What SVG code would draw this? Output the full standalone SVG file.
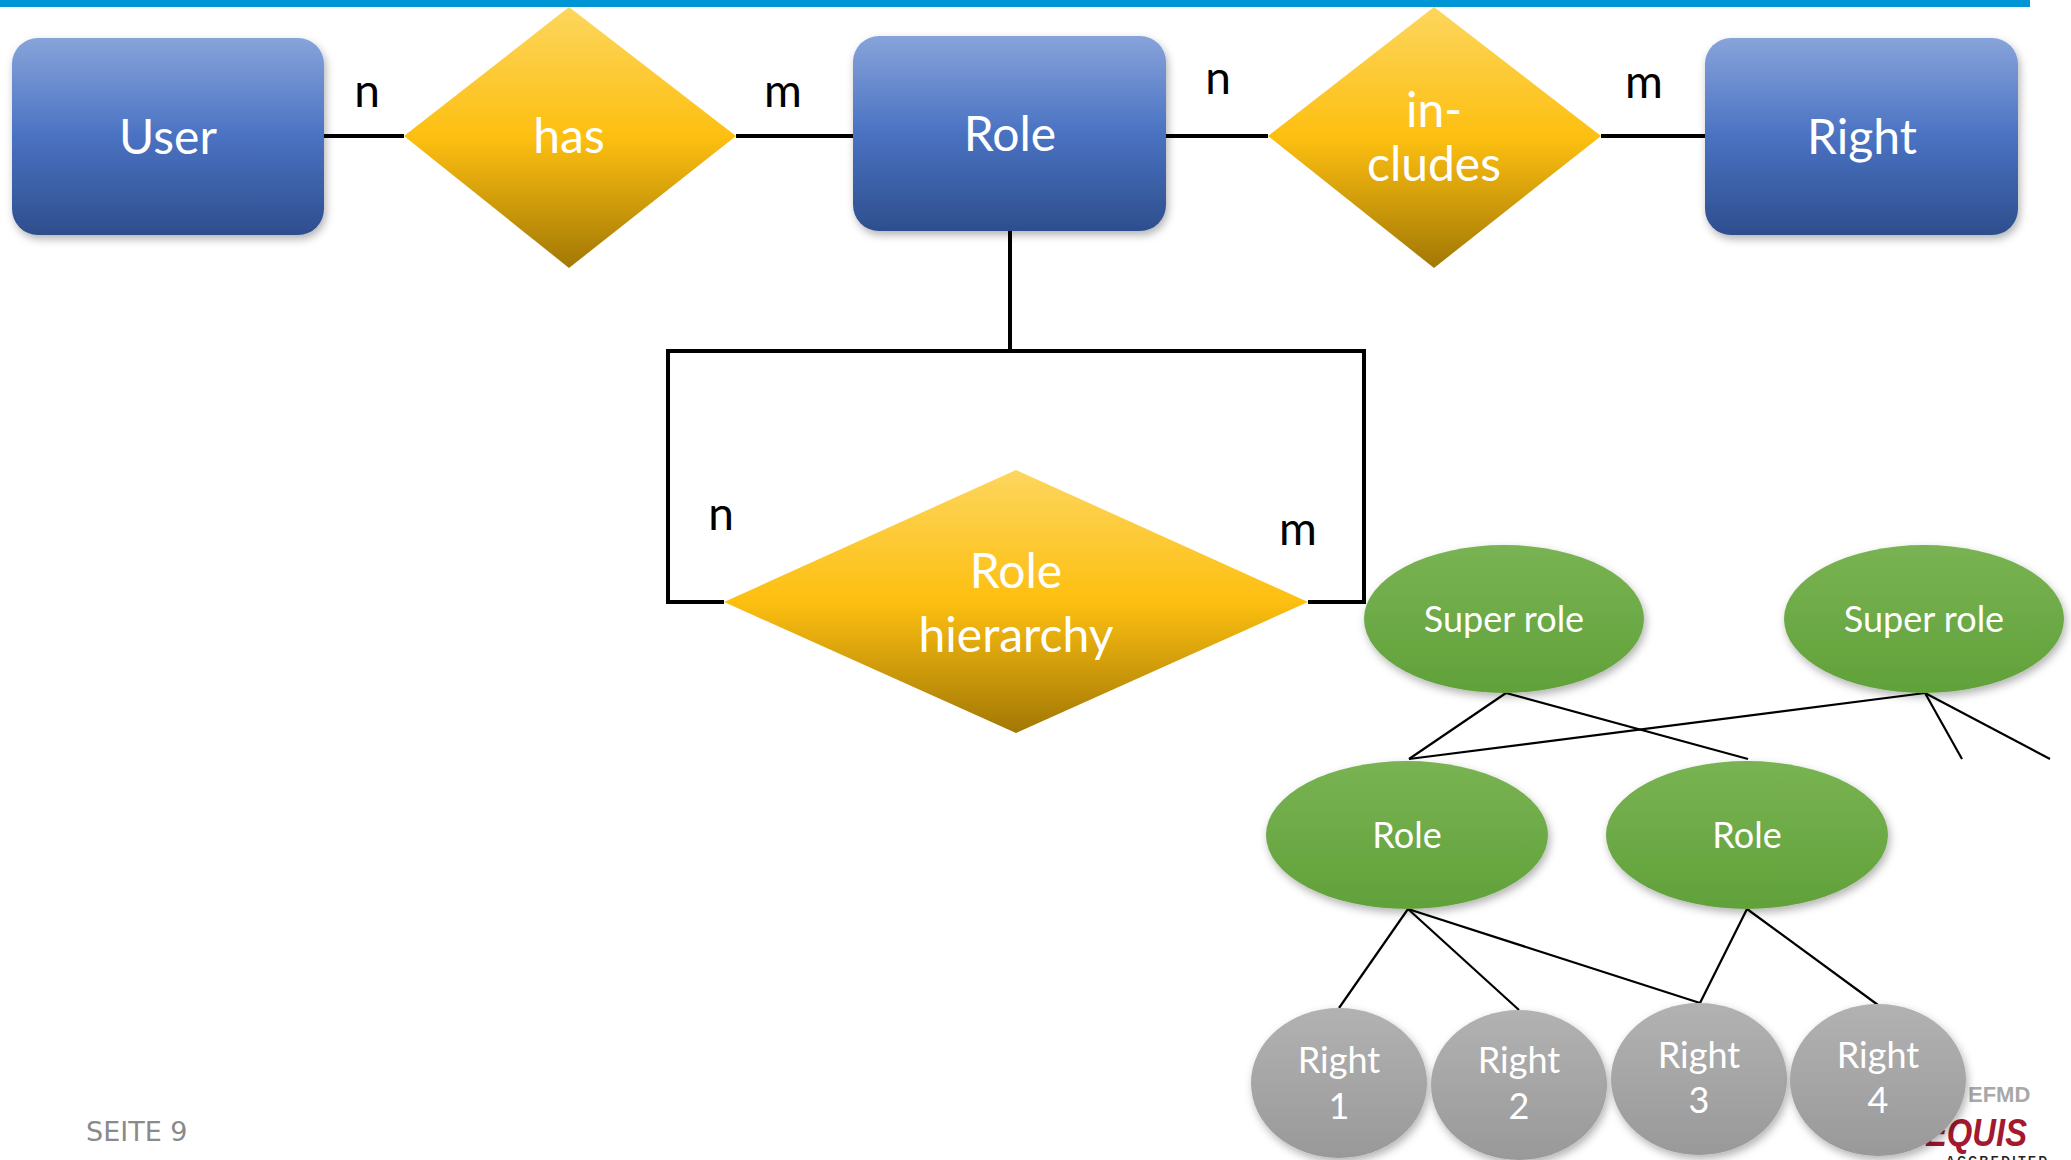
<svg xmlns="http://www.w3.org/2000/svg" width="2071" height="1160" viewBox="0 0 2071 1160">
<defs>
<linearGradient id="gBlue" x1="0" y1="0" x2="0" y2="1">
<stop offset="0" stop-color="#87a3da"/><stop offset="0.5" stop-color="#4a72c2"/><stop offset="1" stop-color="#2e4e8d"/>
</linearGradient>
<linearGradient id="gGold" x1="0" y1="0" x2="0" y2="1">
<stop offset="0" stop-color="#fdd65e"/><stop offset="0.5" stop-color="#fdbf10"/><stop offset="1" stop-color="#a27805"/>
</linearGradient>
<linearGradient id="gGreen" x1="0" y1="0" x2="0" y2="1">
<stop offset="0" stop-color="#79b353"/><stop offset="1" stop-color="#61a13a"/>
</linearGradient>
<linearGradient id="gGray" x1="0" y1="0" x2="0" y2="1">
<stop offset="0" stop-color="#b2b2b2"/><stop offset="1" stop-color="#999999"/>
</linearGradient>
<filter id="sh" x="-20%" y="-20%" width="140%" height="150%">
<feDropShadow dx="2" dy="4" stdDeviation="4" flood-color="#000" flood-opacity="0.3"/>
</filter>
<style>
.box{fill:url(#gBlue);filter:url(#sh)}
.dia{fill:url(#gGold)}
.grn{fill:url(#gGreen);filter:url(#sh)}
.gry{fill:url(#gGray);filter:url(#sh)}
.t{font-family:Lato,"Open Sans","Liberation Sans",sans-serif;fill:#fff;text-anchor:middle}
.big{font-size:48px}
.mid{font-size:36px}
.card{font-family:Lato,"Open Sans","Liberation Sans",sans-serif;font-size:46px;fill:#000;text-anchor:middle}
.er{stroke:#000;stroke-width:4;fill:none}
.tree{stroke:#000;stroke-width:2.2;fill:none}
.logo{font-family:"Liberation Sans",Arial,sans-serif;font-weight:bold}
</style>
</defs>
<rect width="2071" height="1160" fill="#fff"/>
<rect x="0" y="0" width="2030" height="7" fill="#0096d6"/>

<g id="connectors">
<line class="er" x1="324" y1="136" x2="404" y2="136"/>
<line class="er" x1="736" y1="136" x2="853" y2="136"/>
<line class="er" x1="1166" y1="136" x2="1268" y2="136"/>
<line class="er" x1="1601" y1="136" x2="1705" y2="136"/>
<polyline class="er" points="1010,231 1010,351"/>
<polyline class="er" points="724,602 668,602 668,351 1364,351 1364,602 1308,602"/>
<line class="tree" x1="1506" y1="693" x2="1409" y2="759"/>
<line class="tree" x1="1506" y1="693" x2="1748" y2="759"/>
<line class="tree" x1="1925" y1="693" x2="1409" y2="759"/>
<line class="tree" x1="1925" y1="693" x2="1962" y2="759"/>
<line class="tree" x1="1925" y1="693" x2="2050" y2="759"/>
<line class="tree" x1="1408" y1="909" x2="1339" y2="1008"/>
<line class="tree" x1="1408" y1="909" x2="1519" y2="1010"/>
<line class="tree" x1="1408" y1="909" x2="1700" y2="1003"/>
<line class="tree" x1="1747" y1="909" x2="1700" y2="1003"/>
<line class="tree" x1="1747" y1="909" x2="1878" y2="1005"/>
<text class="card" x="367" y="107">n</text>
<text class="card" x="783" y="107">m</text>
<text class="card" x="1218" y="94">n</text>
<text class="card" x="1644" y="98">m</text>
<text class="card" x="721" y="530">n</text>
<text class="card" x="1298" y="545">m</text>
</g>

<g id="user"><rect class="box" x="12" y="38" width="312" height="197" rx="26"/><text class="t big" x="168" y="154">User</text></g>
<g id="has"><polygon class="dia" points="569,7 736,136 569,268 404,136"/><text class="t big" x="569" y="153">has</text></g>
<g id="role"><rect class="box" x="853" y="36" width="313" height="195" rx="26"/><text class="t big" x="1010" y="151">Role</text></g>
<g id="includes"><polygon class="dia" points="1434,7 1601,136 1434,268 1268,136"/><text class="t big" x="1434" y="127">in-</text><text class="t big" x="1434" y="181">cludes</text></g>
<g id="right"><rect class="box" x="1705" y="38" width="313" height="197" rx="26"/><text class="t big" x="1862" y="154">Right</text></g>
<g id="role-hierarchy"><polygon class="dia" points="1016,470 1308,602 1016,733 724,602"/><text class="t big" x="1016" y="588">Role</text><text class="t big" x="1016" y="652">hierarchy</text></g>

<g id="super-role-1"><ellipse class="grn" cx="1504" cy="619" rx="140" ry="74"/><text class="t mid" x="1504" y="632">Super role</text></g>
<g id="super-role-2"><ellipse class="grn" cx="1924" cy="619" rx="140" ry="74"/><text class="t mid" x="1924" y="632">Super role</text></g>
<g id="role-1"><ellipse class="grn" cx="1407" cy="835" rx="141" ry="74"/><text class="t mid" x="1407" y="848">Role</text></g>
<g id="role-2"><ellipse class="grn" cx="1747" cy="835" rx="141" ry="74"/><text class="t mid" x="1747" y="848">Role</text></g>

<g id="logo">
<text class="logo" x="1968" y="1102" font-size="22" fill="#a8a8a8">EFMD</text>
<text class="logo" x="1925" y="1146" font-size="38" font-style="italic" fill="#a3192f" textLength="102" lengthAdjust="spacingAndGlyphs">EQUIS</text>
<text class="logo" x="1946" y="1165" font-size="12" letter-spacing="2.5" fill="#222">ACCREDITED</text>
</g>

<g id="right-1"><ellipse class="gry" cx="1339" cy="1083" rx="88" ry="75"/><text class="t mid" x="1339" y="1073">Right</text><text class="t mid" x="1339" y="1119">1</text></g>
<g id="right-2"><ellipse class="gry" cx="1519" cy="1085" rx="88" ry="75"/><text class="t mid" x="1519" y="1073">Right</text><text class="t mid" x="1519" y="1119">2</text></g>
<g id="right-3"><ellipse class="gry" cx="1699" cy="1079" rx="88" ry="76"/><text class="t mid" x="1699" y="1068">Right</text><text class="t mid" x="1699" y="1113">3</text></g>
<g id="right-4"><ellipse class="gry" cx="1878" cy="1080" rx="88" ry="76"/><text class="t mid" x="1878" y="1068">Right</text><text class="t mid" x="1878" y="1113">4</text></g>

<text x="86" y="1141" font-family="'DejaVu Sans',Verdana,sans-serif" font-size="27" fill="#8a8a8a">SEITE 9</text>
</svg>
